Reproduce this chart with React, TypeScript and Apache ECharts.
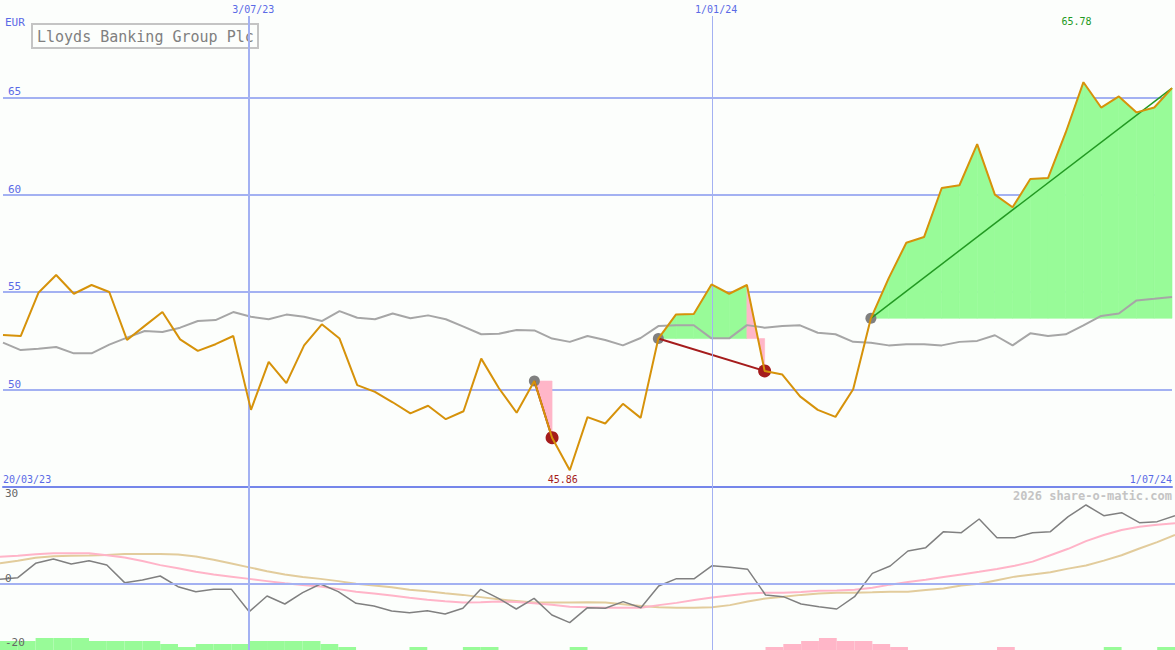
import React, { useEffect, useRef } from "react";
import * as echarts from "echarts";

// ---------- data ----------
const title = "Lloyds Banking Group Plc";
const currency = "EUR";
const watermark = "2026 share-o-matic.com";
const dateTickIndex = [14, 40];
const dateTickLabels = ["3/07/23", "1/01/24"];
const edgeDateLabels = ["20/03/23", "1/07/24"];
const priceTicks = [50, 55, 60, 65];
const oscTicks = [30, 0, -20];

const price = [
  52.8, 52.75, 54.97, 55.88, 54.92, 55.37, 55.01, 52.55, 53.27, 53.98,
  52.58, 51.99, 52.33, 52.75, 48.96, 51.42, 50.33, 52.27, 53.35, 52.62,
  50.23, 49.88, 49.35, 48.78, 49.17, 48.48, 48.89, 51.59, 50.07, 48.81,
  50.44, 47.53, 45.86, 48.59, 48.26, 49.27, 48.55, 52.62, 53.86, 53.88,
  55.4, 54.92, 55.37, 50.96, 50.77, 49.65, 48.96, 48.6, 50.02, 53.66,
  55.71, 57.54, 57.83, 60.35, 60.49, 62.6, 60.01, 59.36, 60.81, 60.86,
  63.2, 65.78, 64.48, 65.05, 64.23, 64.48, 65.48,
];

const movingAverage = [
  52.41, 52.03, 52.1, 52.19, 51.86, 51.86, 52.31, 52.67, 53.01, 52.96,
  53.18, 53.52, 53.57, 53.98, 53.74, 53.61, 53.85, 53.74, 53.52, 54.03,
  53.69, 53.61, 53.91, 53.66, 53.81, 53.61, 53.23, 52.84, 52.87, 53.06,
  53.04, 52.62, 52.45, 52.75, 52.55, 52.27, 52.65, 53.26, 53.3, 53.3,
  52.63, 52.63, 53.31, 53.18, 53.26, 53.3, 52.92, 52.84, 52.45, 52.41,
  52.27, 52.33, 52.33, 52.27, 52.45, 52.5, 52.79, 52.27, 52.89, 52.75,
  52.84, 53.3, 53.78, 53.91, 54.58, 54.66, 54.75,
];

const oscMain = [
  1.46, 1.98, 6.46, 7.81, 6.25, 7.29, 5.94, 0.42, 1.25, 2.5,
  -0.83, -2.4, -1.67, -1.67, -8.65, -3.75, -6.25, -2.71, 0, -2.4,
  -6.04, -6.88, -8.44, -8.96, -8.33, -9.38, -7.6, -1.67, -4.48, -7.81,
  -4.48, -9.69, -12.08, -7.4, -7.6, -5.52, -7.4, -0.63, 1.67, 1.67,
  5.73, 5.21, 4.58, -3.44, -3.96, -6.25, -7.08, -7.81, -3.96, 3.33,
  5.63, 10.31, 11.35, 16.35, 16.04, 20.31, 14.48, 14.48, 16.04, 16.35,
  21.04, 24.69, 21.35, 22.29, 19.17, 19.48, 21.35,
];

const oscFast = [
  8.5, 8.8, 9.3, 9.6, 9.6, 9.6, 9.0, 8.3, 7.2, 5.9,
  4.9, 3.8, 3.0, 2.3, 1.6, 0.9, 0.2, -0.3, -0.8, -1.6,
  -2.4, -3.0, -3.6, -4.3, -4.9, -5.4, -5.8, -5.7, -5.5, -5.6,
  -6.0, -6.5, -7.1, -7.3, -7.4, -7.4, -7.4, -6.6, -5.9, -5.0,
  -4.2, -3.6, -3.0, -2.7, -2.7, -2.5, -2.1, -2.0, -1.8, -1.2,
  -0.2, 0.6, 1.3, 2.2, 3.0, 3.8, 4.7, 5.7, 7.0, 9.0,
  11.0, 13.4, 15.3, 16.9, 17.9, 18.5, 19.0,
];

const oscSlow = [
  6.5, 7.3, 8.2, 8.7, 8.8, 8.9, 9.1, 9.4, 9.4, 9.4,
  9.2, 8.6, 7.6, 6.4, 5.2, 4.0, 3.0, 2.2, 1.6, 0.9,
  0.1, -0.5, -1.0, -1.8, -2.3, -2.9, -3.4, -4.1, -4.8, -5.3,
  -5.8, -5.8, -5.8, -5.7, -5.8, -6.3, -6.9, -7.3, -7.4, -7.4,
  -7.3, -6.6, -5.5, -4.5, -4.0, -3.4, -3.0, -2.7, -2.7, -2.6,
  -2.4, -2.4, -1.9, -1.4, -0.5, 0.1, 1.2, 2.3, 3.0, 3.7,
  4.8, 5.8, 7.3, 9.0, 11.1, 13.1, 15.3,
];

// one value per interval (i -> i+1)
const histogram = [
  3, 3, 4, 4, 4, 3, 3, 3, 3, 2,
  1, 2, 2, 2, 3, 3, 3, 3, 2, 1,
  0, 0, 0, 1, 0, 0, 1, 1, 0, 0,
  0, 0, 1, 0, 0, 0, 0, 0, 0, 0,
  0, 0, 0, -1, -2, -3, -4, -3, -3, -2,
  -1, 0, 0, 0, 0, 0, -1, 0, 0, 0,
  0, 0, 1, 0, 0, 1,
];

const tradeEntry = [30, 37, 49];
const tradeExit = [31, 43, 66];
const tradeOpen = [false, false, true];

// ---------- styles ----------
const BG = "#fcfefc";
const GRID_BLUE = "#a3b1f2";
const SEP_BLUE = "#7586ea";
const LABEL_BLUE = "#5a6ae6";
const ORANGE = "#d6920a";
const MA_GREY = "#a6a6a6";
const FILL_GREEN = "#98fb98";
const FILL_PINK = "#ffb6c8";
const LOSS_RED = "#a51c1c";
const WIN_GREEN = "#229922";
const MONO = "'DejaVu Sans Mono', 'Liberation Mono', monospace";

export default function App() {
  const ref = useRef<HTMLDivElement>(null);

  useEffect(() => {
    if (!ref.current) return;
    const chart = echarts.init(ref.current, null, { renderer: "svg" });
    const last = price.length - 1;

    // fill items per interval for each trade
    const fillItems: number[][] = [];
    tradeEntry.forEach((e, k) => {
      const end = tradeExit[k];
      const base = price[e];
      const loss = price[end] < base;
      for (let i = e; i < end; i++) {
        const isExitInterval = !tradeOpen[k] && i === end - 1;
        const pink = isExitInterval ? loss : (price[i] + price[i + 1]) / 2 < base;
        fillItems.push([i, base, pink ? 1 : 0]);
      }
    });

    const tradeLineSeries = tradeEntry.map((e, k) => {
      const x = tradeExit[k];
      const win = tradeOpen[k] || price[x] >= price[e];
      return {
        type: "line",
        xAxisIndex: 0,
        yAxisIndex: 0,
        z: 4,
        silent: true,
        showSymbol: false,
        data: [
          [e, price[e]],
          [x, price[x]],
        ],
        lineStyle: { color: win ? WIN_GREEN : LOSS_RED, width: win ? 1.5 : 2 },
      };
    });

    const xData = (arr: number[]) => arr.map((v, i) => [i, v]);

    const option: any = {
      animation: false,
      backgroundColor: BG,
      grid: [
        { left: 0, right: 0, top: 0, height: 487 },
        { left: 0, right: 0, top: 488, height: 160 },
        { left: 0, right: 0, top: 488, height: 162 },
        { left: 0, right: 0, top: 16, height: 634 },
      ],
      xAxis: [
        {
          gridIndex: 0,
          type: "value",
          min: 0,
          max: last,
          interval: last,
          axisLine: { show: true, onZero: false, lineStyle: { color: SEP_BLUE, width: 2 } },
          axisTick: { show: false },
          splitLine: { show: false },
          axisLabel: {
            inside: true,
            margin: 3,
            color: LABEL_BLUE,
            fontSize: 10,
            fontFamily: MONO,
            alignMinLabel: "left",
            alignMaxLabel: "right",
            formatter: (v: number) =>
              v === 0 ? edgeDateLabels[0] : v === last ? edgeDateLabels[1] : "",
          },
        },
        { gridIndex: 1, type: "value", min: 0, max: last, show: false },
        { gridIndex: 2, type: "value", min: 0, max: last, show: false },
        { gridIndex: 3, type: "value", min: 0, max: last, show: false },
      ],
      yAxis: [
        {
          gridIndex: 0,
          type: "value",
          min: 45,
          max: 70,
          interval: 5,
          axisLine: { show: false },
          axisTick: { show: false },
          splitLine: {
            show: true,
            showMinLine: false,
            showMaxLine: false,
            lineStyle: { color: GRID_BLUE, width: 2 },
          },
          axisLabel: {
            inside: true,
            margin: 5,
            verticalAlign: "bottom",
            color: LABEL_BLUE,
            fontSize: 11,
            fontFamily: MONO,
            formatter: (v: number) => (priceTicks.includes(v) ? String(v) : ""),
          },
        },
        {
          gridIndex: 1,
          type: "value",
          min: -20,
          max: 30,
          interval: 10,
          z: 20,
          axisLine: { show: false },
          axisTick: { show: false },
          splitLine: { show: false },
          axisLabel: {
            inside: true,
            margin: 5,
            verticalAlign: "bottom",
            verticalAlignMaxLabel: "top",
            color: "#666666",
            fontSize: 11,
            fontFamily: MONO,
            formatter: (v: number) => (oscTicks.includes(v) ? String(v) : ""),
          },
        },
        { gridIndex: 2, type: "value", min: 0, max: 54, show: false },
        { gridIndex: 3, type: "value", min: 0, max: 1, show: false },
      ],
      series: [
        // vertical date lines
        {
          type: "line",
          xAxisIndex: 3,
          yAxisIndex: 3,
          z: 0,
          silent: true,
          showSymbol: false,
          data: [
            [0, 0],
            [last, 0],
          ],
          lineStyle: { opacity: 0 },
          markLine: {
            silent: true,
            symbol: "none",
            lineStyle: { color: GRID_BLUE, type: "solid" },
            label: {
              show: true,
              position: "end",
              distance: 2,
              color: LABEL_BLUE,
              fontSize: 10,
              fontFamily: MONO,
              padding: [0, 0, 0, 8],
            },
            data: dateTickIndex.map((x, k) => ({
              xAxis: x,
              lineStyle: { width: k === 0 ? 2 : 1 },
              label: { formatter: dateTickLabels[k] },
            })),
          },
        },
        // trade fills
        {
          type: "custom",
          xAxisIndex: 0,
          yAxisIndex: 0,
          z: 1,
          silent: true,
          data: fillItems,
          renderItem: (params: any, api: any) => {
            const i = api.value(0);
            const base = api.value(1);
            const pink = api.value(2);
            const pts = [
              [i, base],
              [i, price[i]],
              [i + 1, price[i + 1]],
              [i + 1, base],
            ].map((p) => api.coord(p));
            const c = pink ? FILL_PINK : FILL_GREEN;
            return {
              type: "polygon",
              shape: { points: pts },
              style: { fill: c, stroke: c, lineWidth: 0.6 },
            };
          },
        },
        // moving average
        {
          type: "line",
          xAxisIndex: 0,
          yAxisIndex: 0,
          z: 2,
          silent: true,
          showSymbol: false,
          data: xData(movingAverage),
          lineStyle: { color: MA_GREY, width: 2 },
        },
        // entry markers
        {
          type: "scatter",
          xAxisIndex: 0,
          yAxisIndex: 0,
          z: 3,
          silent: true,
          symbolSize: 11,
          itemStyle: { color: "#808080", opacity: 1 },
          data: tradeEntry.map((e) => [e, price[e]]),
        },
        // exit markers
        {
          type: "scatter",
          xAxisIndex: 0,
          yAxisIndex: 0,
          z: 3,
          silent: true,
          symbolSize: 13,
          itemStyle: { color: LOSS_RED, opacity: 1 },
          data: tradeExit
            .map((x, k) => (tradeOpen[k] ? null : [x, price[x]]))
            .filter((d) => d !== null),
        },
        ...tradeLineSeries,
        // price
        {
          type: "line",
          xAxisIndex: 0,
          yAxisIndex: 0,
          z: 5,
          silent: true,
          showSymbol: false,
          data: xData(price),
          lineStyle: { color: ORANGE, width: 2 },
        },
        // oscillator lines
        {
          type: "line",
          xAxisIndex: 1,
          yAxisIndex: 1,
          z: 2,
          silent: true,
          showSymbol: false,
          data: xData(oscSlow),
          lineStyle: { color: "#e2cc9c", width: 2 },
          markLine: {
            silent: true,
            symbol: "none",
            label: { show: false },
            lineStyle: { color: GRID_BLUE, width: 2, type: "solid" },
            data: [{ yAxis: 0 }],
          },
        },
        {
          type: "line",
          xAxisIndex: 1,
          yAxisIndex: 1,
          z: 3,
          silent: true,
          showSymbol: false,
          data: xData(oscFast),
          lineStyle: { color: "#ffb4c8", width: 2 },
        },
        {
          type: "line",
          xAxisIndex: 1,
          yAxisIndex: 1,
          z: 4,
          silent: true,
          showSymbol: false,
          data: xData(oscMain),
          lineStyle: { color: "#808080", width: 1.5 },
        },
        // histogram
        {
          type: "custom",
          xAxisIndex: 2,
          yAxisIndex: 2,
          z: 1,
          silent: true,
          data: histogram.map((h, i) => [i, h]),
          renderItem: (params: any, api: any) => {
            const i = api.value(0);
            const h = api.value(1);
            if (!h) return { type: "group", children: [] };
            const a = api.coord([i, 0]);
            const b = api.coord([i + 1, Math.abs(h)]);
            return {
              type: "rect",
              shape: { x: a[0], y: b[1], width: b[0] - a[0], height: a[1] - b[1] },
              style: { fill: h > 0 ? FILL_GREEN : FILL_PINK },
            };
          },
        },
      ],
    };

    chart.setOption(option);

    let iMax = 0;
    let iMin = 0;
    price.forEach((v, i) => {
      if (v > price[iMax]) iMax = i;
      if (v < price[iMin]) iMin = i;
    });
    const pMax = chart.convertToPixel({ gridIndex: 0 } as any, [iMax, price[iMax]]) as number[];
    const pMin = chart.convertToPixel({ gridIndex: 0 } as any, [iMin, price[iMin]]) as number[];

    chart.setOption({
      graphic: [
        {
          type: "group",
          z: 100,
          children: [
            {
              type: "rect",
              shape: { x: 32, y: 24, width: 226, height: 24 },
              style: { fill: BG, stroke: "#c4c4c4", lineWidth: 2 },
            },
            {
              type: "text",
              x: 37,
              y: 37,
              style: {
                text: title,
                fill: "#808080",
                font: `15px ${MONO}`,
                verticalAlign: "middle",
                align: "left",
              },
            },
          ],
        },
        {
          type: "text",
          x: 5,
          y: 22,
          z: 100,
          style: { text: currency, fill: LABEL_BLUE, font: `11px ${MONO}`, verticalAlign: "middle" },
        },
        {
          type: "text",
          x: 1172,
          y: 496,
          z: 100,
          style: {
            text: watermark,
            fill: "#c4c4c4",
            font: `bold 12px ${MONO}`,
            align: "right",
            verticalAlign: "middle",
          },
        },
        {
          type: "text",
          x: pMax[0] - 7,
          y: 21,
          z: 100,
          style: {
            text: price[iMax].toFixed(2),
            fill: WIN_GREEN,
            font: `10px ${MONO}`,
            align: "center",
            verticalAlign: "middle",
          },
        },
        {
          type: "text",
          x: pMin[0] - 7,
          y: 479,
          z: 100,
          style: {
            text: price[iMin].toFixed(2),
            fill: LOSS_RED,
            font: `10px ${MONO}`,
            align: "center",
            verticalAlign: "middle",
          },
        },
      ],
    });

    return () => chart.dispose();
  }, []);

  return (
    <div
      ref={ref}
      style={{ position: "fixed", left: 0, top: 0, width: 1175, height: 650, background: BG }}
    />
  );
}
